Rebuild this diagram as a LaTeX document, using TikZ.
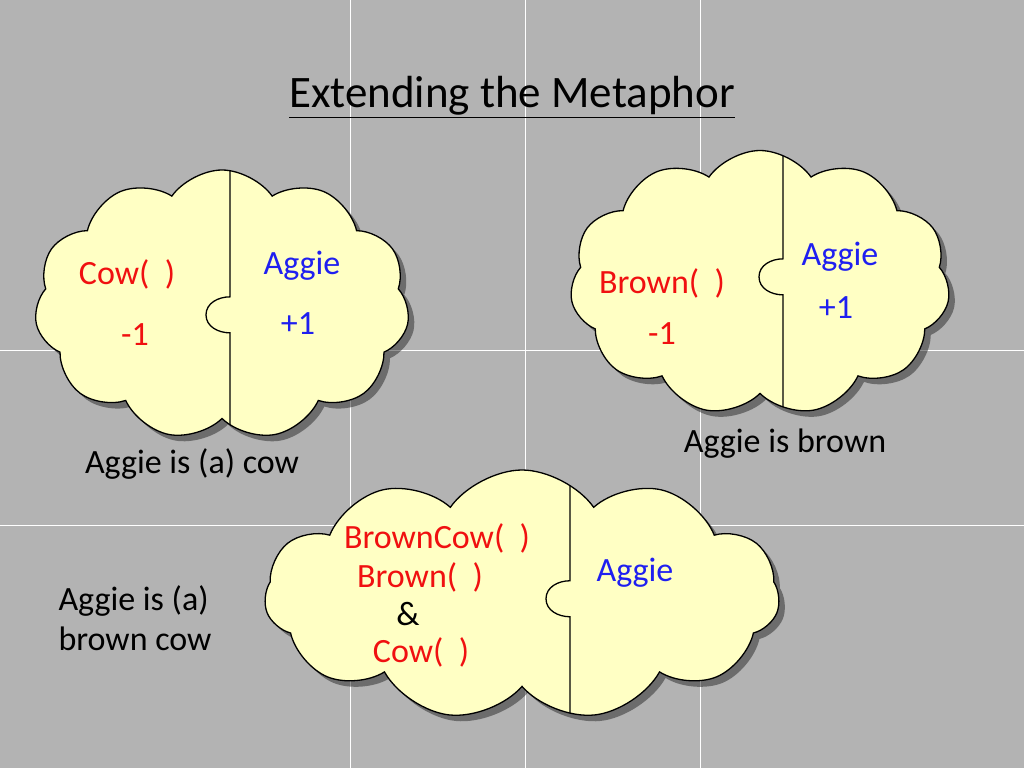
\documentclass[tikz,border=0pt]{standalone}
\usepackage{fontspec}
\setmainfont{Carlito}
\usetikzlibrary{shapes.symbols,shadows}

\definecolor{slate}{HTML}{B3B3B3}
\definecolor{cream}{HTML}{FFFFC4}
\definecolor{aggieblue}{HTML}{1F1FF0}
\definecolor{cowred}{HTML}{F01010}

\tikzset{
  puff/.style={cloud, cloud puffs=11, cloud puff arc=110, draw=black, line width=1.3pt, fill=cream,
    drop shadow={fill=black!85, shadow xshift=6pt, shadow yshift=-6pt}},
  % divider line with a puzzle knob: x offset, knob top y (from centre)
  splitter/.style 2 args={path picture={\draw[line width=1.3pt] ([xshift=#1]path picture bounding box.north)
    -- ([xshift=#1,yshift=#2]path picture bounding box.center)
    to[out=180,in=90] ([xshift=#1-24pt,yshift=#2-18pt]path picture bounding box.center)
    to[out=-90,in=180] ([xshift=#1,yshift=#2-36pt]path picture bounding box.center)
    -- ([xshift=#1]path picture bounding box.south);}},
  redtxt/.style={text=cowred, font=\fontsize{34}{40}\selectfont},
  bluetxt/.style={text=aggieblue, font=\fontsize{34}{40}\selectfont},
  blacktxt/.style={text=black, font=\fontsize{34}{40}\selectfont, align=left},
}

\begin{document}
\begin{tikzpicture}[x=1pt,y=-1pt]
\fill[slate] (0,0) rectangle (1024,768);
\useasboundingbox (0,0) rectangle (1024,768);
\foreach \gx in {350,525,700} \draw[white, line width=0.8pt] (\gx,0) -- (\gx,768);
\foreach \gy in {350,525} \draw[white, line width=0.8pt] (0,\gy) -- (1024,\gy);

\node (title) at (512,97) {\fontsize{45}{50}\selectfont\underline{Extending the Metaphor}};

% clouds
\node[puff, minimum width=375pt, minimum height=270pt, splitter={8pt}{7pt}] (cowcloud) at (222,305) {};
\node[puff, minimum width=380pt, minimum height=265pt, splitter={23pt}{23pt}] (browncloud) at (760,283) {};
\node[puff, minimum width=515pt, minimum height=250pt, splitter={48pt}{13pt}] (bothcloud) at (522,595) {};

% cloud one
\node[redtxt] (cow) at (127,274) {Cow(\ \ )};
\node[redtxt] (minusa) at (135,335) {-1};
\node[bluetxt] (aggiea) at (302,266) {Aggie};
\node[bluetxt] (plusa) at (298,324) {+1};
\node[blacktxt] (caption1) at (192,464) {Aggie is (a) cow};

% cloud two
\node[redtxt] (brown) at (662,283) {Brown(\ \ )};
\node[redtxt] (minusb) at (662,334) {-1};
\node[bluetxt] (aggieb) at (840,257) {Aggie};
\node[bluetxt] (plusb) at (836,308) {+1};
\node[blacktxt] (caption2) at (785,444) {Aggie is brown};

% cloud three
\node[redtxt] (browncow) at (437,538) {BrownCow(\ \ )};
\node[redtxt] (brownc) at (420,577) {Brown(\ \ )};
\node[blacktxt] (amp) at (408,614) {\&};
\node[redtxt] (cowc) at (421,652) {Cow(\ \ )};
\node[bluetxt] (aggiec) at (635,573) {Aggie};
\node[blacktxt, anchor=west] (caption3) at (55,618) {Aggie is (a)\\brown cow};
\end{tikzpicture}
\end{document}
